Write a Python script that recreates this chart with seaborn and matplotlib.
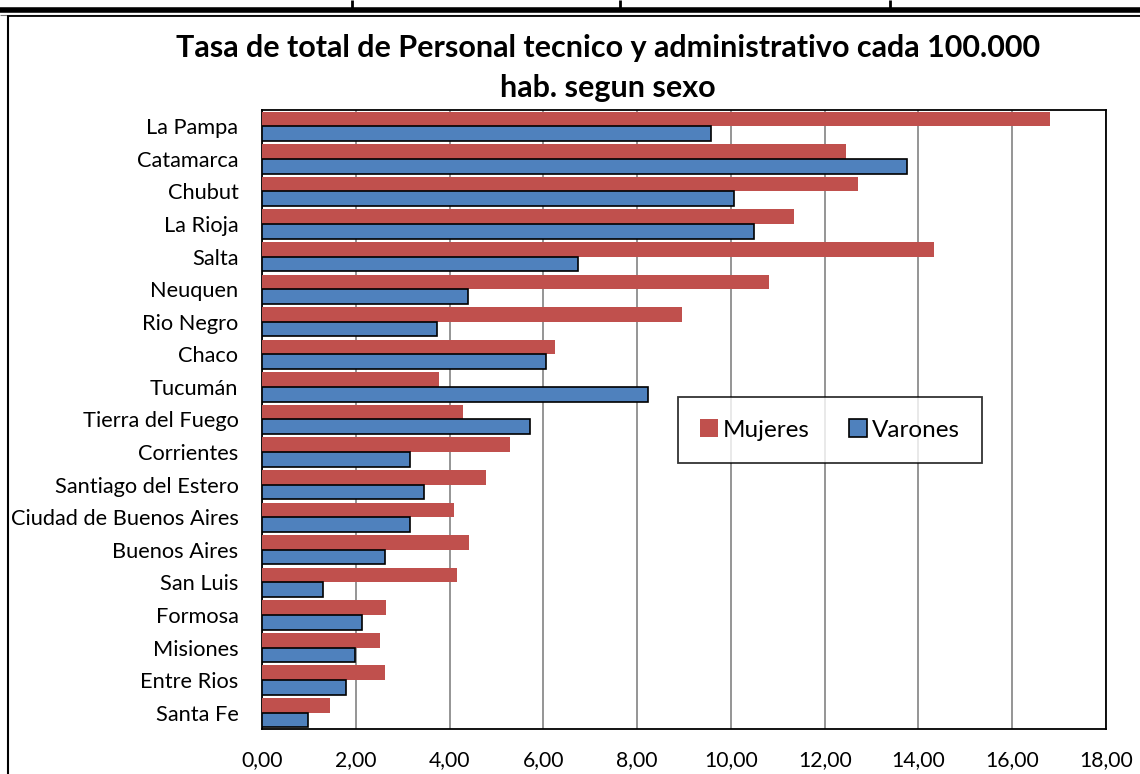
import matplotlib
matplotlib.use("Agg")
import matplotlib.pyplot as plt
import seaborn as sns
import pandas as pd
from matplotlib.lines import Line2D
from matplotlib.ticker import FuncFormatter, MultipleLocator

provincias = ["La Pampa", "Catamarca", "Chubut", "La Rioja", "Salta", "Neuquen",
              "Rio Negro", "Chaco", "Tucumán", "Tierra del Fuego", "Corrientes",
              "Santiago del Estero", "Ciudad de Buenos Aires", "Buenos Aires",
              "San Luis", "Formosa", "Misiones", "Entre Rios", "Santa Fe"]
mujeres = [16.80, 12.45, 12.71, 11.35, 14.34, 10.81, 8.96, 6.24, 3.78, 4.28,
           5.29, 4.78, 4.10, 4.42, 4.16, 2.65, 2.52, 2.63, 1.44]
varones = [9.58, 13.76, 10.07, 10.49, 6.73, 4.39, 3.73, 6.06, 8.23, 5.71,
           3.16, 3.45, 3.15, 2.63, 1.30, 2.13, 1.98, 1.79, 0.98]
series = ["Mujeres", "Varones"]
colores = ["#C0504D", "#4F81BD"]
titulo = "Tasa de total de Personal tecnico y administrativo cada 100.000\nhab. segun sexo"

df = pd.DataFrame({
    "Provincia": provincias * 2,
    "Valor": mujeres + varones,
    "Sexo": [series[0]] * len(provincias) + [series[1]] * len(provincias),
})

sns.set_style("white")
plt.rcParams["font.family"] = ["Lato", "DejaVu Sans"]

W, H = 1140, 774
fig = plt.figure(figsize=(W / 100, H / 100), dpi=100)
ax = fig.add_axes([262 / W, 1 - 729 / H, 844 / W, 619 / H])

sns.barplot(data=df, y="Provincia", x="Valor", hue="Sexo", hue_order=series,
            order=provincias, palette=colores, width=0.9, orient="h",
            saturation=1, ax=ax, legend=True, zorder=3)

n = len(provincias)
for i, patch in enumerate(ax.patches[:2 * n]):
    if i >= n:
        patch.set_edgecolor("black")
        patch.set_linewidth(1.2)
    else:
        patch.set_edgecolor("none")

ax.set_xlim(0, 18)
ax.set_ylim(n - 0.5, -0.5)
ax.xaxis.set_major_locator(MultipleLocator(2))
ax.xaxis.set_major_formatter(FuncFormatter(lambda v, p: f"{v:.2f}".replace(".", ",")))
ax.grid(axis="x", color="#8C8C8C", linewidth=1.3, zorder=0)
ax.set_axisbelow(True)
ax.set_xlabel("")
ax.set_ylabel("")
for s in ax.spines.values():
    s.set_visible(True)
    s.set_color("black")
    s.set_linewidth(1.3)
ax.tick_params(axis="y", length=0, pad=17, labelsize=15.7, labelcolor="black")
ax.tick_params(axis="x", length=0, pad=15, labelsize=15.2, labelcolor="black")

handles = [plt.Rectangle((0, 0), 1, 1, facecolor=colores[0], edgecolor="none"),
           plt.Rectangle((0, 0), 1, 1, facecolor=colores[1], edgecolor="black", linewidth=1.2)]
leg = ax.legend(handles, series, ncol=2, loc="center",
                bbox_to_anchor=((830 - 262) / 844, 1 - (430 - 110) / 619),
                frameon=True, fancybox=False, fontsize=17.5, handlelength=0.75,
                handleheight=0.75, handletextpad=0.2, columnspacing=1.6,
                borderpad=0.9, borderaxespad=0, labelcolor="black")
leg.get_frame().set_edgecolor("black")
leg.get_frame().set_linewidth(1.3)
leg.get_frame().set_boxstyle("square", pad=0)
leg.set_zorder(5)

fig.text(608 / W, 1 - 68 / H, titulo, ha="center", va="center", color="black",
         fontsize=22, fontweight="bold", linespacing=1.5)

# page table and chart frame lines
def fl(x0, y0, x1, y1, lw, c="black"):
    fig.add_artist(Line2D([x0 / W, x1 / W], [1 - y0 / H, 1 - y1 / H], color=c,
                          linewidth=lw, transform=fig.transFigure, solid_capstyle="butt"))

fl(0, 9.5, W, 9.5, 4.0)
fl(0, 14.5, W, 14.5, 0.8, "#777777")
for xv in [352, 620, 890]:
    fl(xv, 0, xv, 8, 2.0)
fl(7, 16, W, 16, 1.3)
fl(7.5, 16, 7.5, H, 1.5)

fig.savefig("out.png", dpi=100)
